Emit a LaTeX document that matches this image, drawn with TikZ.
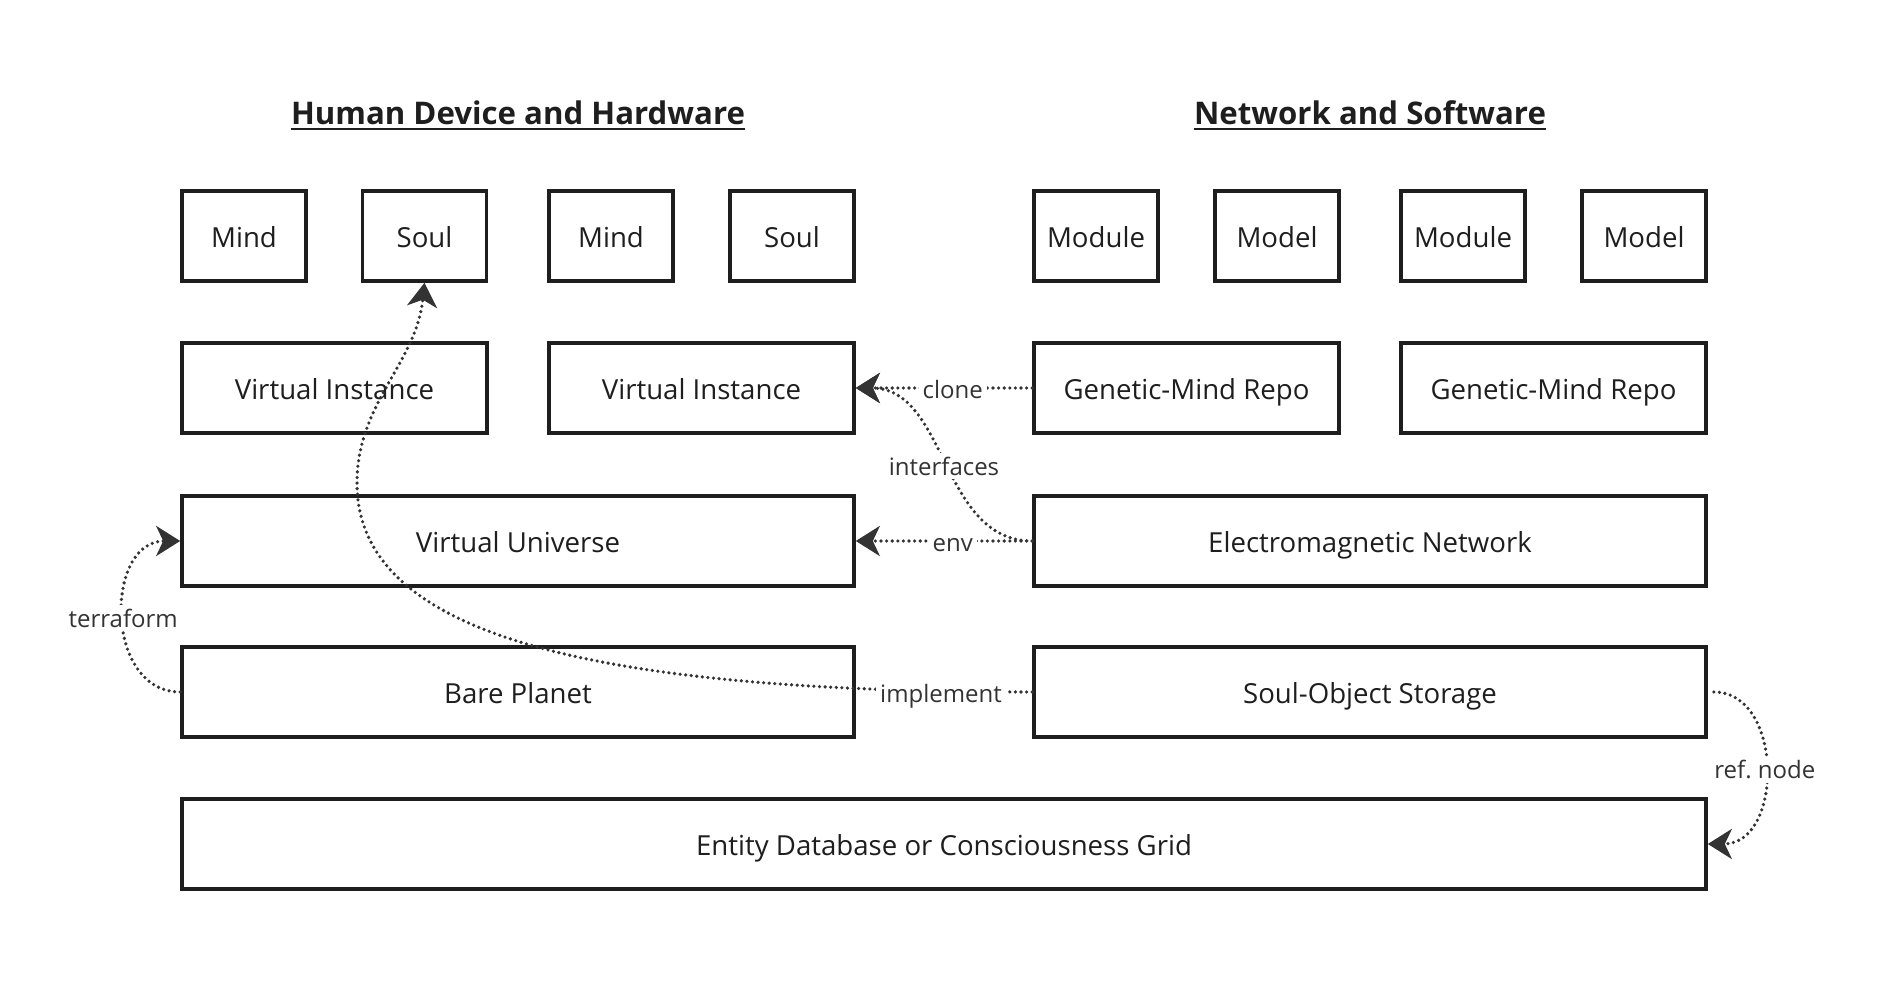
\documentclass[tikz,border=0pt]{standalone}
\usepackage{fontspec}
\setmainfont{Open Sans}
\usetikzlibrary{arrows.meta}
\definecolor{ink}{HTML}{1E1E1E}
\definecolor{wiregray}{HTML}{333333}

\tikzset{
  box/.style={draw=ink, line width=1.8pt, fill=white, text=ink, inner sep=0pt,
    minimum height=45pt, text height=11.6pt, text depth=0pt, font=\fontsize{13.8}{16}\selectfont},
  small/.style={box, minimum width=62pt},
  wide/.style={box, minimum width=152.5pt},
  layer/.style={box, minimum width=336pt},
  heading/.style={text=ink, inner sep=0pt, anchor=base, font=\bfseries\fontsize{15.6}{18}\selectfont},
  wire/.style={draw=wiregray, line width=1.8pt, line cap=round, dash pattern=on 0pt off 2.8pt,
    -{Stealth[length=12pt,width=15pt,inset=3.5pt]}},
  tag/.style={fill=white, text=wiregray, inner sep=2pt, text height=9pt, text depth=0pt,
    yshift=-1pt, font=\fontsize{12}{14}\selectfont},
}

\begin{document}
\begin{tikzpicture}[x=1pt,y=1pt]
  \useasboundingbox (0,0) rectangle (944,497);
  % headings
  \node[heading] (hw) at (259,434.5) {Human Device and Hardware};
  \node[heading] (sw) at (685,434.5) {Network and Software};
  \draw[ink, line width=1.2pt] ([yshift=-2pt]hw.base west) -- ([yshift=-2pt]hw.base east);
  \draw[ink, line width=1.2pt] ([yshift=-2pt]sw.base west) -- ([yshift=-2pt]sw.base east);
  % top row
  \node[small] (mind1) at (122,379) {Mind};
  \node[small] (soul1) at (212.25,379) {Soul};
  \node[small] (mind2) at (305.5,379) {Mind};
  \node[small] (soul2) at (396,379) {Soul};
  \node[small] (module1) at (548,379) {Module};
  \node[small] (model1) at (638.5,379) {Model};
  \node[small] (module2) at (731.5,379) {Module};
  \node[small] (model2) at (822,379) {Model};
  % instances and repos
  \node[wide] (inst1) at (167.25,303) {Virtual Instance};
  \node[wide] (inst2) at (350.75,303) {Virtual Instance};
  \node[wide] (repo1) at (593.25,303) {Genetic-Mind Repo};
  \node[wide] (repo2) at (776.75,303) {Genetic-Mind Repo};
  % layers
  \node[layer] (universe) at (259,226.5) {Virtual Universe};
  \node[layer] (emnet) at (685,226.5) {Electromagnetic Network};
  \node[layer] (planet) at (259,151) {Bare Planet};
  \node[layer] (storage) at (685,151) {Soul-Object Storage};
  \node[box, minimum width=762pt] (entity) at (472,75) {Entity Database or Consciousness Grid};
  % links
  \draw[wire] (repo1.west) -- (inst2.east) node[tag,pos=0.45] {clone};
  \draw[wire] (emnet.west) -- (universe.east) node[tag,pos=0.45] {env};
  \draw[wire] (emnet.west) .. controls +(-46,0) and +(46,0) .. (inst2.east) node[tag,pos=0.5] {interfaces};
  \draw[wire] (planet.west) .. controls +(-38,0) and +(-38,0) .. (universe.west) node[tag,pos=0.5] {terraform};
  \draw[wire, shorten <=3pt] (storage.east) .. controls +(38,0) and +(38,0) .. (entity.east) node[tag,pos=0.5] {ref.\ node};
  \coordinate (bend) at (178.5,255.5);
  \draw[wire] (storage.west) .. controls +(-225,0) and +(0,-75) .. (bend) node[tag,pos=0.07] {implement}
    .. controls +(0,40) and +(-4,-40) .. (soul1.south);
\end{tikzpicture}
\end{document}
